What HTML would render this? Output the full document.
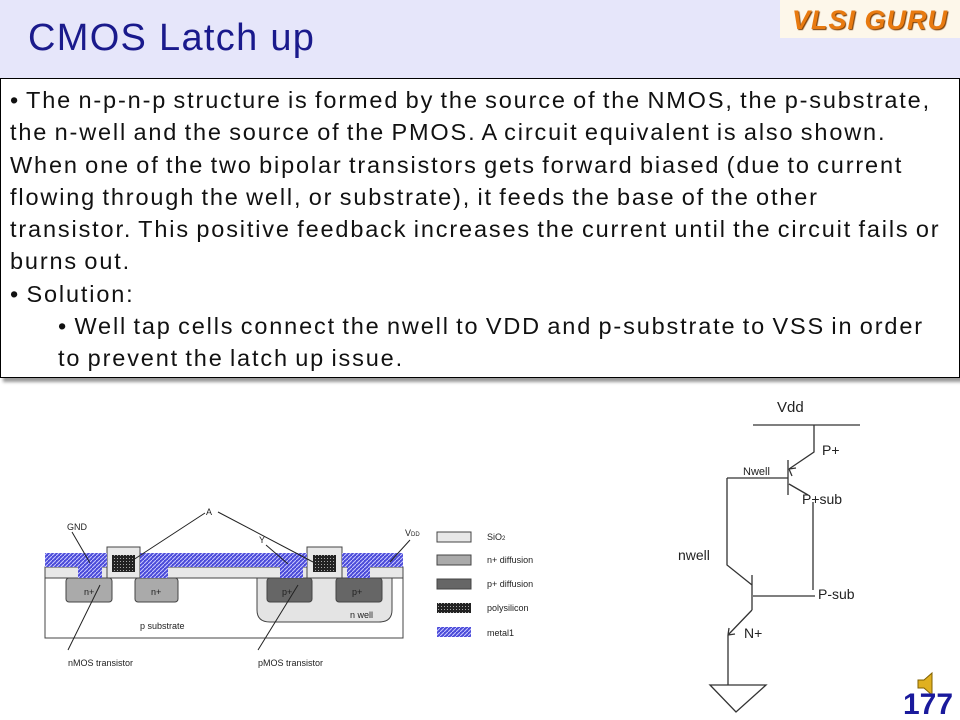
<!DOCTYPE html>
<html><head><meta charset="utf-8"><style>
body{margin:0;width:960px;height:720px;background:#fff;position:relative;overflow:hidden;font-family:"Liberation Sans",sans-serif}
.hdr{position:absolute;left:0;top:0;width:960px;height:78px;background:#e6e6fa}
.title{position:absolute;left:28px;top:17px;font-size:38px;color:#1a1a8c;letter-spacing:1.3px}
.logo{position:absolute;left:780px;top:0;width:180px;height:38px;background:#fdf7ea;font:italic bold 27px "Liberation Sans",sans-serif;color:#e87a10;text-shadow:1px 1px 1px #7a3a00;line-height:40px;text-align:center;letter-spacing:1px}
.box{position:absolute;left:0;top:78px;width:958px;height:298px;border:1px solid #000;background:#fff;box-shadow:3px 4px 3px #999}
.txt{position:absolute;left:10px;top:84px;width:950px;font-size:23.5px;line-height:32.3px;color:#111;white-space:nowrap;letter-spacing:1.85px;word-spacing:-2px}
.ind{padding-left:48px}
</style></head><body>
<div class="hdr"></div>
<div class="title">CMOS Latch up</div>
<div class="logo">VLSI GURU</div>
<div class="box"></div>
<div class="txt">• The n-p-n-p structure is formed by the source of the NMOS, the p-substrate,<br>the n-well and the source of the PMOS. A circuit equivalent is also shown.<br>When one of the two bipolar transistors gets forward biased (due to current<br>flowing through the well, or substrate), it feeds the base of the other<br>transistor. This positive feedback increases the current until the circuit fails or<br>burns out.<br>• Solution:<div class="ind">• Well tap cells connect the nwell to VDD and p-substrate to VSS in order<br>to prevent the latch up issue.</div></div>
<svg width="960" height="720" style="position:absolute;left:0;top:0" font-family="Liberation Sans,sans-serif">
<defs><pattern id="m" width="4" height="4" patternUnits="userSpaceOnUse"><rect width="4" height="4" fill="#4a4ad8"/><path d="M0 4L4 0" stroke="#c8c8ff" stroke-width="1"/></pattern>
<pattern id="p" width="3" height="3" patternUnits="userSpaceOnUse"><rect width="3" height="3" fill="#222"/><rect width="1" height="1" fill="#aaa"/></pattern></defs>
<g stroke="#444" stroke-width="1">
<rect x="45" y="578" width="358" height="60" fill="#fff"/>
<path d="M257 578V610Q257 622 270 622H379Q392 622 392 610V578Z" fill="#e4e4e4"/>
<rect x="66" y="578" width="46" height="24" rx="3" fill="#aaa"/>
<rect x="135" y="578" width="43" height="24" rx="3" fill="#aaa"/>
<rect x="267" y="578" width="45" height="24" rx="3" fill="#666"/>
<rect x="336" y="578" width="46" height="24" rx="3" fill="#666"/>
<rect x="45" y="567" width="358" height="11" fill="#e8e8e8"/>
<rect x="107" y="547" width="33" height="31" fill="#e8e8e8"/>
<rect x="307" y="547" width="35" height="31" fill="#e8e8e8"/>
</g>
<g fill="url(#m)">
<rect x="45" y="553" width="62" height="14"/><rect x="78" y="553" width="24" height="25"/>
<rect x="140" y="553" width="140" height="14"/><rect x="140" y="553" width="28" height="25"/><rect x="280" y="553" width="23" height="25"/><rect x="280" y="553" width="27" height="14"/>
<rect x="342" y="553" width="61" height="14"/><rect x="347" y="553" width="23" height="25"/>
</g>
<rect x="112" y="555" width="23" height="17" fill="url(#p)"/><rect x="313" y="555" width="23" height="17" fill="url(#p)"/>
<g stroke="#222" stroke-width="1" fill="none">
<path d="M72 532L90 563M205 513L130 562M218 512L313 562M266 545L288 564M410 540L390 562M68 650L100 585M258 650L298 585"/>
</g>
<g font-size="9" fill="#222">
<text x="67" y="530">GND</text><text x="206" y="515">A</text><text x="259" y="543">Y</text><text x="405" y="536">V<tspan font-size="6">DD</tspan></text>
<text x="84" y="595">n+</text><text x="151" y="595">n+</text><text x="282" y="595">p+</text><text x="352" y="595">p+</text>
<text x="140" y="629">p substrate</text><text x="350" y="618">n well</text>
<text x="68" y="666">nMOS transistor</text><text x="258" y="666">pMOS transistor</text>
<text x="487" y="540">SiO<tspan font-size="6">2</tspan></text><text x="487" y="563">n+ diffusion</text><text x="487" y="587">p+ diffusion</text><text x="487" y="611">polysilicon</text><text x="487" y="636">metal1</text>
</g>
<rect x="437" y="532" width="34" height="10" fill="#e8e8e8" stroke="#444"/>
<rect x="437" y="555" width="34" height="10" fill="#aaa" stroke="#444"/>
<rect x="437" y="579" width="34" height="10" fill="#666" stroke="#444"/>
<rect x="437" y="603" width="34" height="10" fill="url(#p)"/>
<rect x="437" y="627" width="34" height="10" fill="url(#m)"/>
<g stroke="#333" stroke-width="1.3" fill="none">
<path d="M753 425H860M814 425V452L789 469M788 460V495M727 478H788M789 484L808 495M813 502V590M727 478V565L752 585M752 575V610M753 596H815M752 610L728 635M728 635V685M710 685H766L736 712Z"/>
<path d="M789 469l7 -1M789 469l3 7M728 635l1 -7M728 635l7 -1"/>
</g>
<g font-size="14" fill="#222">
<text x="777" y="412" font-size="15">Vdd</text><text x="822" y="455">P+</text><text x="743" y="475" font-size="11">Nwell</text>
<text x="802" y="504">P+sub</text><text x="678" y="560">nwell</text><text x="818" y="599">P-sub</text><text x="744" y="638">N+</text>
</g>
<path d="M918 680h6l8-7v22l-8-7h-6z" fill="#e0b020" stroke="#806000"/>
<text x="903" y="714" font-size="30" font-weight="bold" fill="#1a1a9c">177</text>
</svg>
</body></html>
